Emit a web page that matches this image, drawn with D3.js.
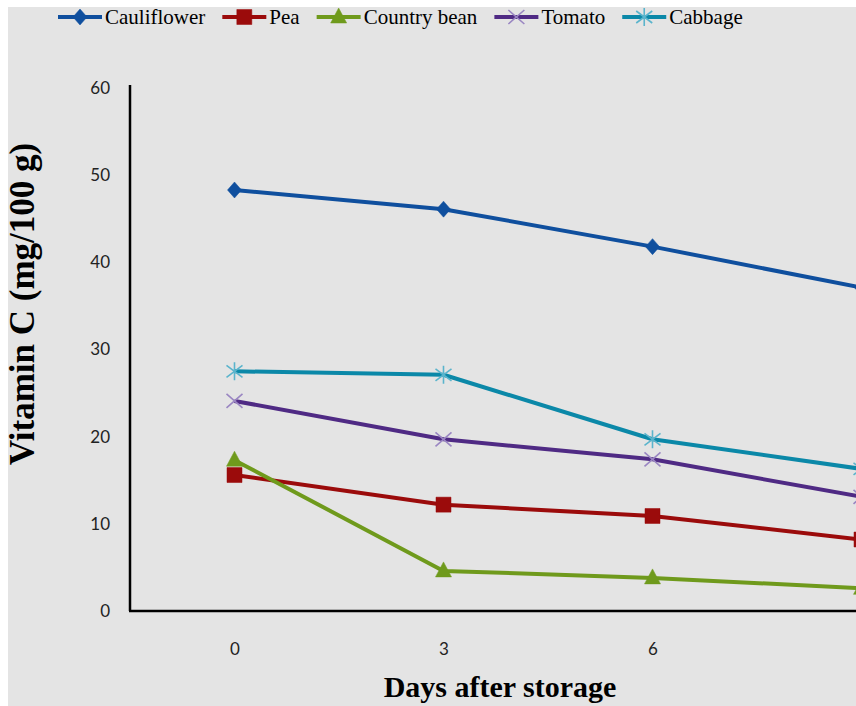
<!DOCTYPE html>
<html>
<head>
<meta charset="utf-8">
<script src="https://cdn.jsdelivr.net/npm/d3@7"></script>
<style>
  html, body { margin: 0; padding: 0; background: #ffffff; }
  svg { display: block; }
</style>
</head>
<body>
<svg id="chart" width="856" height="706"></svg>
<script>
// ---- data ----
const days = ["0", "3", "6", "9"];
const yTicks = [0, 10, 20, 30, 40, 50, 60];
const seriesNames = ["Cauliflower", "Pea", "Country bean", "Tomato", "Cabbage"];
const cauliflower = [48.3, 46.1, 41.8, 37.1];
const pea = [15.6, 12.2, 10.9, 8.2];
const countryBean = [17.3, 4.6, 3.8, 2.6];
const tomato = [24.1, 19.7, 17.4, 13.1];
const cabbage = [27.5, 27.1, 19.7, 16.3];
const lineColors = ["#0f4f9e", "#9b0b0b", "#6f9a1c", "#4f2a84", "#0b88a8"];
const markerColors = ["#0f4f9e", "#9b0b0b", "#6f9a1c", "#9a86c2", "#5ab4cc"];
const markerTypes = ["diamond", "square", "triangle", "x", "star"];
const xTitle = "Days after storage";
const yTitle = "Vitamin C (mg/100 g)";

const allValues = [cauliflower, pea, countryBean, tomato, cabbage];
const series = seriesNames.map((name, i) => ({
  name, values: allValues[i], color: lineColors[i], mColor: markerColors[i], marker: markerTypes[i]
}));

const svg = d3.select("#chart");
const W = 856, H = 706;

// background panel
svg.append("rect").attr("x", 8).attr("y", 7).attr("width", W - 8).attr("height", H - 7).attr("fill", "#e4e4e4");

const plot = { left: 130, right: 966, top: 88, bottom: 611 };
const x = d3.scalePoint().domain(days).range([plot.left, plot.right]).padding(0.5);
const y = d3.scaleLinear().domain([0, 60]).range([plot.bottom, plot.top]);

// y tick labels
const yAxis = d3.axisLeft(y).tickValues(yTicks).tickSize(0).tickPadding(20);
const gy = svg.append("g").attr("transform", `translate(${plot.left},0)`).call(yAxis);
gy.select(".domain").remove();
gy.selectAll("text").attr("font-family", "Lato, 'Open Sans', sans-serif").attr("font-size", 17).attr("fill", "#222");

// x tick labels
const xAxis = d3.axisBottom(x).tickSize(0).tickPadding(32);
const gx = svg.append("g").attr("transform", `translate(0,${plot.bottom})`).call(xAxis);
gx.select(".domain").remove();
gx.selectAll("text").attr("font-family", "Lato, 'Open Sans', sans-serif").attr("font-size", 17).attr("fill", "#222");

// axis lines
svg.append("line").attr("x1", plot.left).attr("x2", plot.left).attr("y1", y(60) - 3).attr("y2", y(0))
  .attr("stroke", "#000").attr("stroke-width", 2.5);
svg.append("line").attr("x1", plot.left - 1).attr("x2", W + 10).attr("y1", y(0)).attr("y2", y(0))
  .attr("stroke", "#000").attr("stroke-width", 2.5);

// marker shapes
function markerPath(type) {
  const p = d3.path();
  if (type === "diamond") { p.moveTo(0, -8); p.lineTo(7, 0); p.lineTo(0, 8); p.lineTo(-7, 0); p.closePath(); }
  else if (type === "square") { p.rect(-7.5, -7.5, 15, 15); }
  else if (type === "triangle") { p.moveTo(0, -9); p.lineTo(8, 6); p.lineTo(-8, 6); p.closePath(); }
  else if (type === "x") { p.moveTo(-8, -7); p.lineTo(8, 7); p.moveTo(-8, 7); p.lineTo(8, -7); }
  else if (type === "star") { p.moveTo(-8, -6); p.lineTo(8, 6); p.moveTo(-8, 6); p.lineTo(8, -6); p.moveTo(0, -9); p.lineTo(0, 9); }
  return p.toString();
}
function drawMarker(g, s, cx, cy) {
  const stroked = s.marker === "x" || s.marker === "star";
  g.append("path").attr("d", markerPath(s.marker)).attr("transform", `translate(${cx},${cy})`)
    .attr("fill", stroked ? "none" : s.mColor)
    .attr("stroke", s.mColor).attr("stroke-width", stroked ? 1.6 : 0.5);
}

// lines
const line = d3.line().x((d, i) => x(days[i])).y(d => y(d)).curve(d3.curveLinear);
const gl = svg.append("g");
series.forEach(s => {
  gl.append("path").attr("d", line(s.values)).attr("fill", "none").attr("stroke", s.color)
    .attr("stroke-width", 4).attr("stroke-linejoin", "round");
});
series.forEach(s => {
  s.values.forEach((v, i) => drawMarker(gl, s, x(days[i]), y(v)));
});

// axis titles
svg.append("text").attr("x", 500).attr("y", 697).attr("text-anchor", "middle")
  .attr("font-family", "'Liberation Serif', 'Times New Roman', serif").attr("font-weight", "bold")
  .attr("font-size", 30).attr("fill", "#000").text(xTitle);
svg.append("text").attr("transform", "translate(34,304) rotate(-90)").attr("text-anchor", "middle")
  .attr("font-family", "'Liberation Serif', 'Times New Roman', serif").attr("font-weight", "bold")
  .attr("font-size", 35).attr("fill", "#000").text(yTitle);

// legend
const lg = svg.append("g");
let lx = 58;
const ly = 17;
series.forEach(s => {
  lg.append("line").attr("x1", lx).attr("x2", lx + 44).attr("y1", ly).attr("y2", ly)
    .attr("stroke", s.color).attr("stroke-width", 4);
  drawMarker(lg, s, lx + 22, ly);
  const t = lg.append("text").attr("x", lx + 47).attr("y", ly + 7)
    .attr("font-family", "'Liberation Serif', 'Times New Roman', serif").attr("font-size", 21)
    .attr("fill", "#000").text(s.name);
  lx += 47 + t.node().getComputedTextLength() + 17;
});
</script>
</body>
</html>
